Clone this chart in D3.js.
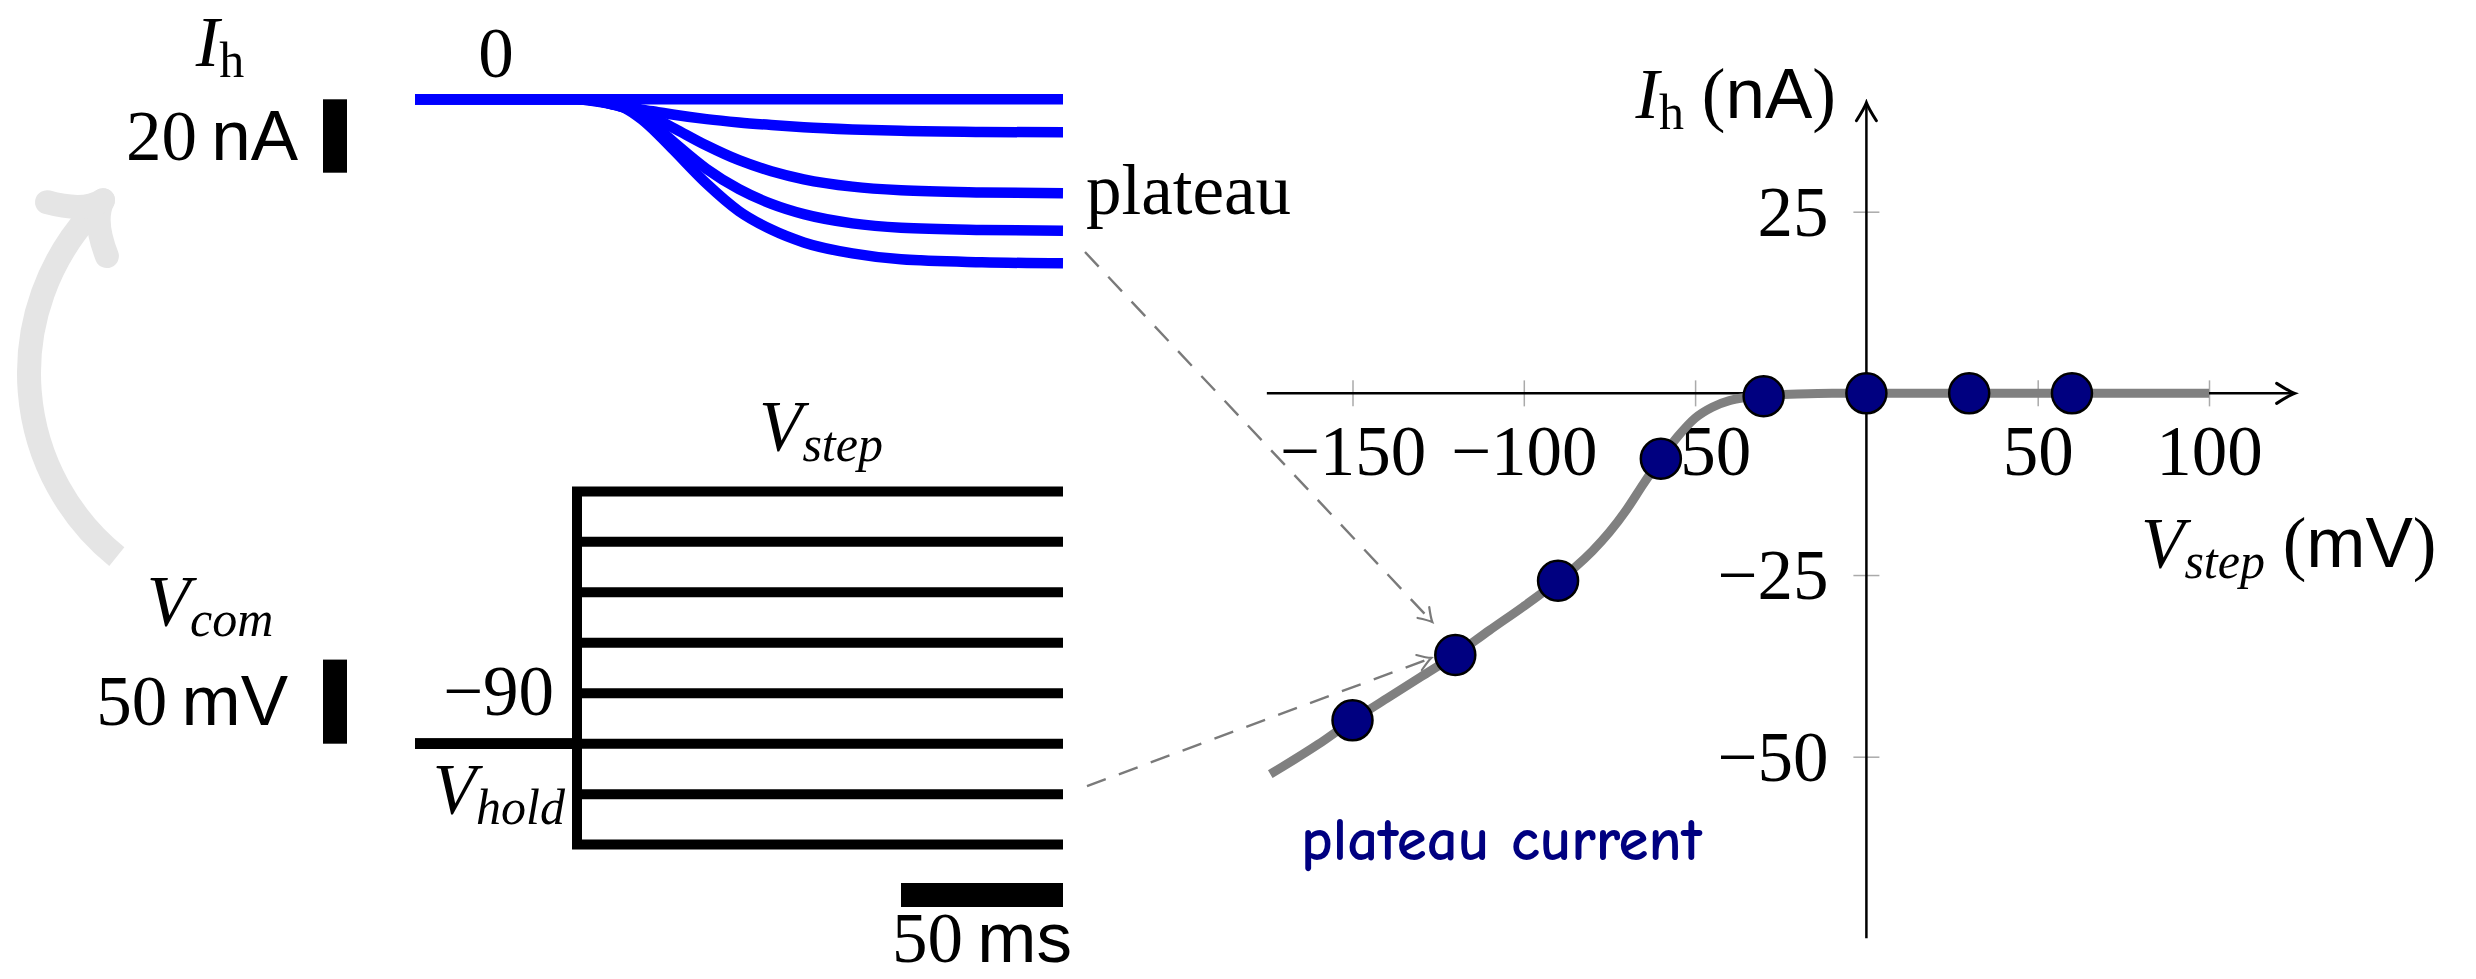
<!DOCTYPE html>
<html>
<head>
<meta charset="utf-8">
<script src="https://cdn.jsdelivr.net/npm/d3@7"></script>
<style>
  body { margin: 0; background: #fff; }
  svg text { font-family: "Liberation Serif", "DejaVu Serif", serif; }
</style>
</head>
<body>
<svg id="fig" width="2476" height="979"></svg>
<script>
// ---- data ----
// time base of the recordings (ms)
const traceTime = [0, 50, 55, 60, 65, 70, 75, 80, 90, 100, 110, 120, 135, 150, 175, 200];
// Ih traces (nA), one per distinct plateau
const traceM30 = [0, 0, 0, 0, 0, 0, 0, 0, 0, 0, 0, 0, 0, 0, 0, 0];
const traceM60 = [0, 0, -0.5, -1.2, -2.0, -2.8, -3.5, -4.2, -5.4, -6.3, -7.0, -7.6, -8.2, -8.6, -8.9, -9.0];
const traceM90 = [0, 0, -0.3, -1.0, -2.0, -3.6, -5.6, -7.9, -12.6, -16.6, -19.6, -21.8, -23.8, -24.8, -25.4, -25.6];
const traceM120 = [0, 0, -0.3, -1.2, -2.4, -4.8, -8.0, -11.8, -19.0, -24.5, -28.5, -31.3, -33.8, -35.0, -35.6, -35.8];
const traceM150 = [0, 0, -0.3, -1.2, -2.5, -5.5, -9.5, -14.0, -23.0, -30.5, -35.5, -39.0, -42.0, -43.6, -44.4, -44.7];
const currentTraces = [traceM30, traceM60, traceM90, traceM120, traceM150];

// voltage protocol (mV)
const holdVoltage = -90;
const stepOnset = 50;
const stepVoltages = [60, 30, 0, -30, -60, -90, -120, -150];

// I-V plateau points
const ivVoltage = [-150, -120, -90, -60, -30, 0, 30, 60];
const ivCurrent = [-45.0, -36.0, -25.8, -9.0, -0.4, 0, 0, 0];

// fitted curve through the points
const fitVoltage = [-174, -160, -150, -140, -130, -120, -110, -100, -90, -85, -80, -75, -70, -65, -60, -55, -50, -45, -40, -35, -30, -20, -10, 0, 50, 100];
const fitCurrent = [-52.4, -48.3, -45.0, -42.0, -39.0, -36.0, -32.6, -29.3, -25.8, -23.9, -21.7, -19.1, -16.0, -12.4, -9.0, -5.9, -3.4, -1.9, -1.0, -0.55, -0.3, -0.1, 0, 0, 0, 0];

// axis ticks
const xTicks = [-150, -100, -50, 50, 100];
const yTicks = [25, -25, -50];

// ---- setup ----
const svg = d3.select("#fig");
const defs = svg.append("defs");
const fontSize = 71;

// arrow head markers
function arrowMarker(id, color, w, len, half) {
    defs.append("marker")
        .attr("id", id)
        .attr("markerUnits", "userSpaceOnUse")
        .attr("viewBox", `${-len - 4} ${-half - 4} ${len + 8} ${2 * half + 8}`)
        .attr("markerWidth", len + 8)
        .attr("markerHeight", 2 * half + 8)
        .attr("refX", 0).attr("refY", 0)
        .attr("orient", "auto")
        .append("path")
        .attr("d", `M${-len},${-half} Q${-len * 0.3},${-half * 0.2} 0,0 Q${-len * 0.3},${half * 0.2} ${-len},${half}`)
        .attr("fill", "none")
        .attr("stroke", color)
        .attr("stroke-width", w)
        .attr("stroke-linecap", "round");
}
arrowMarker("axisArrow", "#000", 3, 18, 10);
arrowMarker("dashArrow", "#7a7a7a", 2.2, 13, 8);

// text helper: pieces = [{text, italic, sans, sub}]
function addText(x, y, anchor, pieces, size) {
    size = size || fontSize;
    const t = svg.append("text")
        .attr("x", x).attr("y", y)
        .attr("text-anchor", anchor)
        .style("fill", "#000")
        .style("font-size", size + "px");
    let shift = 0;
    pieces.forEach(p => {
        const s = t.append("tspan").text(p.text);
        const target = p.sub ? Math.round(size * 0.16) : 0;
        if (target !== shift) { s.attr("dy", target - shift); shift = target; }
        if (p.italic) s.style("font-style", "italic");
        if (p.sans) s.style("font-family", "'Liberation Sans', 'DejaVu Sans', sans-serif");
        if (p.sub) s.style("font-size", Math.round(size * 0.7) + "px");
    });
    return t;
}

// ---- left panel: recordings ----
const tScale = d3.scaleLinear().domain([0, 200]).range([415, 1063]);
const iScale = d3.scaleLinear().domain([0, -20]).range([99.3, 172.7]);
const vScale = d3.scaleLinear().domain([-90, -40]).range([743.7, 659.6]);

// Ih traces
const traceLine = d3.line()
    .x((d, i) => tScale(traceTime[i]))
    .y(d => iScale(d))
    .curve(d3.curveMonotoneX);

svg.append("g").selectAll("path")
    .data(currentTraces).enter()
    .append("path")
    .attr("d", d => traceLine(d))
    .attr("fill", "none")
    .attr("stroke", "#0000ff")
    .attr("stroke-width", 10.5);

// voltage steps
const cmdLine = d3.line()
    .x(d => tScale(d[0]))
    .y(d => vScale(d[1]));

svg.append("g").selectAll("path")
    .data(stepVoltages).enter()
    .append("path")
    .attr("d", v => cmdLine([[0, holdVoltage], [stepOnset, holdVoltage], [stepOnset, v], [200, v]]))
    .attr("fill", "none")
    .attr("stroke", "#000")
    .attr("stroke-width", 10)
    .attr("stroke-linejoin", "miter");

// scale bars
svg.append("rect")
    .attr("x", 323).attr("width", 24)
    .attr("y", iScale(0)).attr("height", iScale(-20) - iScale(0));
svg.append("rect")
    .attr("x", 323).attr("width", 24)
    .attr("y", vScale(-40)).attr("height", vScale(-90) - vScale(-40));
svg.append("rect")
    .attr("x", tScale(150)).attr("width", tScale(200) - tScale(150))
    .attr("y", 883).attr("height", 24);

// labels left panel
addText(220, 66, "middle", [{ text: "I", italic: true }, { text: "h", sub: true }]);
addText(tScale(25), iScale(0) - 22, "middle", [{ text: "0" }]);
addText(298, 160, "end", [{ text: "20\u2009" }, { text: "nA", sans: true }]);
addText(1086, 214, "start", [{ text: "plateau" }]);
addText(821, 450, "middle", [{ text: "V", italic: true }, { text: "step", italic: true, sub: true }]);
addText(210, 625, "middle", [{ text: "V", italic: true }, { text: "com", italic: true, sub: true }]);
addText(288, 725, "end", [{ text: "50\u2009" }, { text: "mV", sans: true }]);
addText(554, 715, "end", [{ text: "\u221290" }]);
addText(565, 813, "end", [{ text: "V", italic: true }, { text: "hold", italic: true, sub: true }]);
addText(982, 962, "middle", [{ text: "50\u2009" }, { text: "ms", sans: true }]);

// big gray curved arrow (Vcom -> Ih)
const arcC = [265, 373], arcR = 236;
const a0 = 128.9 * Math.PI / 180, a1 = 222 * Math.PI / 180;
const arcPath = d3.path();
arcPath.arc(arcC[0], arcC[1], arcR, a0, a1, false);
svg.append("path")
    .attr("d", arcPath.toString())
    .attr("fill", "none")
    .attr("stroke", "#e5e5e5")
    .attr("stroke-width", 24);
const endX = arcC[0] + arcR * Math.cos(a1), endY = arcC[1] + arcR * Math.sin(a1);
const dir = [-Math.sin(a1), Math.cos(a1)];
const tip = [endX + dir[0] * 20, endY + dir[1] * 20];
const back = Math.atan2(-dir[1], -dir[0]);
[-1, 1].forEach(s => {
    const ang = back + s * 46 * Math.PI / 180;
    const bx = tip[0] + 56 * Math.cos(ang), by = tip[1] + 56 * Math.sin(ang);
    const cx = tip[0] + 22 * Math.cos(back + s * 0.25), cy = tip[1] + 22 * Math.sin(back + s * 0.25);
    svg.append("path")
        .attr("d", `M${bx},${by} Q${cx},${cy} ${tip[0]},${tip[1]}`)
        .attr("fill", "none")
        .attr("stroke", "#e5e5e5")
        .attr("stroke-width", 24)
        .attr("stroke-linecap", "round");
});

// ---- right panel: I-V plot ----
const x = d3.scaleLinear().domain([-150, 100]).range([1352.5, 2209]);
const y = d3.scaleLinear().domain([-50, 25]).range([756.7, 211.7]);

// x axis
const gx = svg.append("g")
    .attr("transform", `translate(0,${y(0)})`)
    .call(d3.axisBottom(x).tickValues(xTicks).tickSize(13));
gx.select(".domain").remove();
gx.selectAll(".tick line").attr("y1", -13).attr("y2", 13).attr("stroke", "#aaa").attr("stroke-width", 1.5);
gx.selectAll(".tick text")
    .attr("y", 82).attr("dy", null)
    .style("fill", "#000")
    .style("font-size", fontSize + "px")
    .style("font-family", "'Liberation Serif', serif");

// y axis
const gy = svg.append("g")
    .attr("transform", `translate(${x(0)},0)`)
    .call(d3.axisLeft(y).tickValues(yTicks).tickSize(13));
gy.select(".domain").remove();
gy.selectAll(".tick line").attr("x1", -13).attr("x2", 13).attr("stroke", "#aaa").attr("stroke-width", 1.5);
gy.selectAll(".tick text")
    .attr("x", -38).attr("dy", "0.33em")
    .style("fill", "#000")
    .style("font-size", fontSize + "px")
    .style("font-family", "'Liberation Serif', serif");

// axis lines with arrows
svg.append("line")
    .attr("x1", x(-175)).attr("x2", x(125))
    .attr("y1", y(0)).attr("y2", y(0))
    .attr("stroke", "#000").attr("stroke-width", 2.5)
    .attr("marker-end", "url(#axisArrow)");
svg.append("line")
    .attr("x1", x(0)).attr("x2", x(0))
    .attr("y1", y(-75)).attr("y2", y(40))
    .attr("stroke", "#000").attr("stroke-width", 2.5)
    .attr("marker-end", "url(#axisArrow)");

// axis labels
addText(1836, 118, "end", [{ text: "I", italic: true }, { text: "h", sub: true }, { text: " (" }, { text: "nA", sans: true }, { text: ")" }]);
addText(2141, 567, "start", [{ text: "V", italic: true }, { text: "step", italic: true, sub: true }, { text: " (" }, { text: "mV", sans: true }, { text: ")" }]);

// fitted curve
const fitLine = d3.line()
    .x((d, i) => x(fitVoltage[i]))
    .y(d => y(d))
    .curve(d3.curveMonotoneX);
svg.append("path")
    .attr("d", fitLine(fitCurrent))
    .attr("fill", "none")
    .attr("stroke", "#808080")
    .attr("stroke-width", 9);

// points
svg.append("g").selectAll("circle")
    .data(ivVoltage).enter()
    .append("circle")
    .attr("cx", d => x(d))
    .attr("cy", (d, i) => y(ivCurrent[i]))
    .attr("r", 20)
    .attr("fill", "#000080")
    .attr("stroke", "#000")
    .attr("stroke-width", 2.5);

// dashed arrows from traces to the -120 mV point
const target = [x(-120), y(-36)];
const dashed = [
    [[tScale(200) + 22, 252], [target[0] - 23, target[1] - 33]],
    [[tScale(200) + 24, vScale(-120) - 8], [target[0] - 24, target[1] + 3]]
];
svg.append("g").selectAll("line")
    .data(dashed).enter()
    .append("line")
    .attr("x1", d => d[0][0]).attr("y1", d => d[0][1])
    .attr("x2", d => d[1][0]).attr("y2", d => d[1][1])
    .attr("stroke", "#7a7a7a")
    .attr("stroke-width", 2.4)
    .attr("stroke-dasharray", "20,14")
    .attr("marker-end", "url(#dashArrow)");

// annotation
svg.append("text")
    .attr("x", 1301).attr("y", 860)
    .text("plateau current")
    .style("font-family", "'Comic Sans MS', 'Comic Neue', 'DejaVu Sans', sans-serif")
    .style("font-weight", "bold")
    .style("font-size", "61px")
    .style("fill", "#000080");
</script>
</body>
</html>
